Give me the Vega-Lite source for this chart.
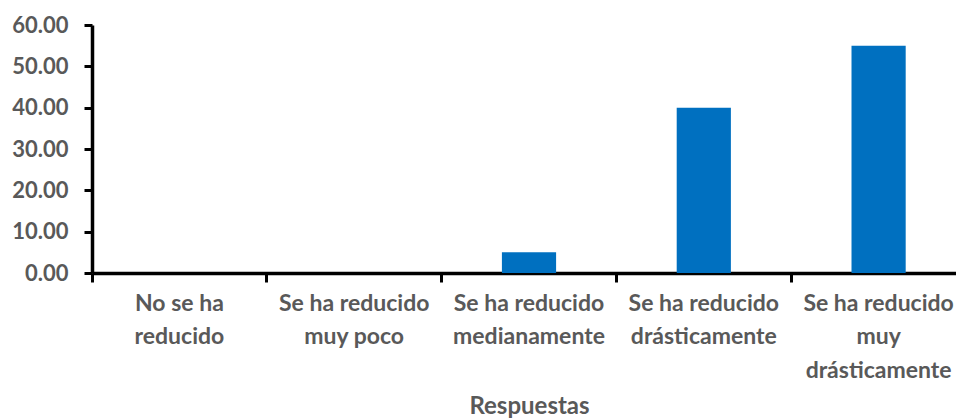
{
  "$schema": "https://vega.github.io/schema/vega-lite/v6.json",
  "autosize": "none",
  "padding": {"left": 92, "top": 25, "right": 0, "bottom": 146},
  "width": 864,
  "height": 248,
  "background": "white",
  "config": {
    "view": {"stroke": null},
    "font": "Lato"
  },
  "data": {
    "values": [
      {"respuesta": "No se ha reducido", "porcentaje": 0},
      {"respuesta": "Se ha reducido muy poco", "porcentaje": 0},
      {"respuesta": "Se ha reducido medianamente", "porcentaje": 5},
      {"respuesta": "Se ha reducido drásticamente", "porcentaje": 40},
      {"respuesta": "Se ha reducido muy drásticamente", "porcentaje": 55}
    ]
  },
  "mark": {"type": "bar", "color": "#0070C0", "width": {"band": 0.31}},
  "encoding": {
    "x": {
      "field": "respuesta",
      "type": "nominal",
      "sort": null,
      "scale": {"range": [0, 874], "paddingInner": 0, "paddingOuter": 0},
      "axis": {
        "title": "Respuestas",
        "titleFont": "Lato",
        "titleFontSize": 24,
        "titleFontWeight": "bold",
        "titleColor": "#595959",
        "titlePadding": 12,
        "labelAngle": 0,
        "bandPosition": 0,
        "labelOffset": 0,
        "labelFont": "Lato",
        "labelFontSize": 23,
        "labelFontWeight": "bold",
        "labelColor": "#595959",
        "labelLineHeight": 33.5,
        "labelPadding": 10,
        "labelBaseline": "top",
        "labelOverlap": false,
        "labelBound": false,
        "labelFlush": false,
        "labelLimit": 0,
        "labelExpr": "datum.value == 'No se ha reducido' ? ['No se ha', 'reducido'] : datum.value == 'Se ha reducido muy poco' ? ['Se ha reducido', 'muy poco'] : datum.value == 'Se ha reducido medianamente' ? ['Se ha reducido', 'medianamente'] : datum.value == 'Se ha reducido drásticamente' ? ['Se ha reducido', 'drásticamente'] : ['Se ha reducido', 'muy', 'drásticamente']",
        "domainColor": "black",
        "domainWidth": 3.5,
        "tickColor": "black",
        "tickWidth": 3,
        "tickSize": 9,
        "ticks": true,
        "grid": false
      }
    },
    "y": {
      "field": "porcentaje",
      "type": "quantitative",
      "scale": {"domain": [0, 60], "nice": false},
      "axis": {
        "title": null,
        "values": [0, 10, 20, 30, 40, 50, 60],
        "format": ".2f",
        "labelFont": "Lato",
        "labelFontSize": 22,
        "labelFontWeight": "bold",
        "labelColor": "#595959",
        "labelPadding": 16,
        "domainColor": "black",
        "domainWidth": 3.5,
        "tickColor": "black",
        "tickWidth": 3,
        "tickSize": 8,
        "grid": false
      }
    }
  }
}
